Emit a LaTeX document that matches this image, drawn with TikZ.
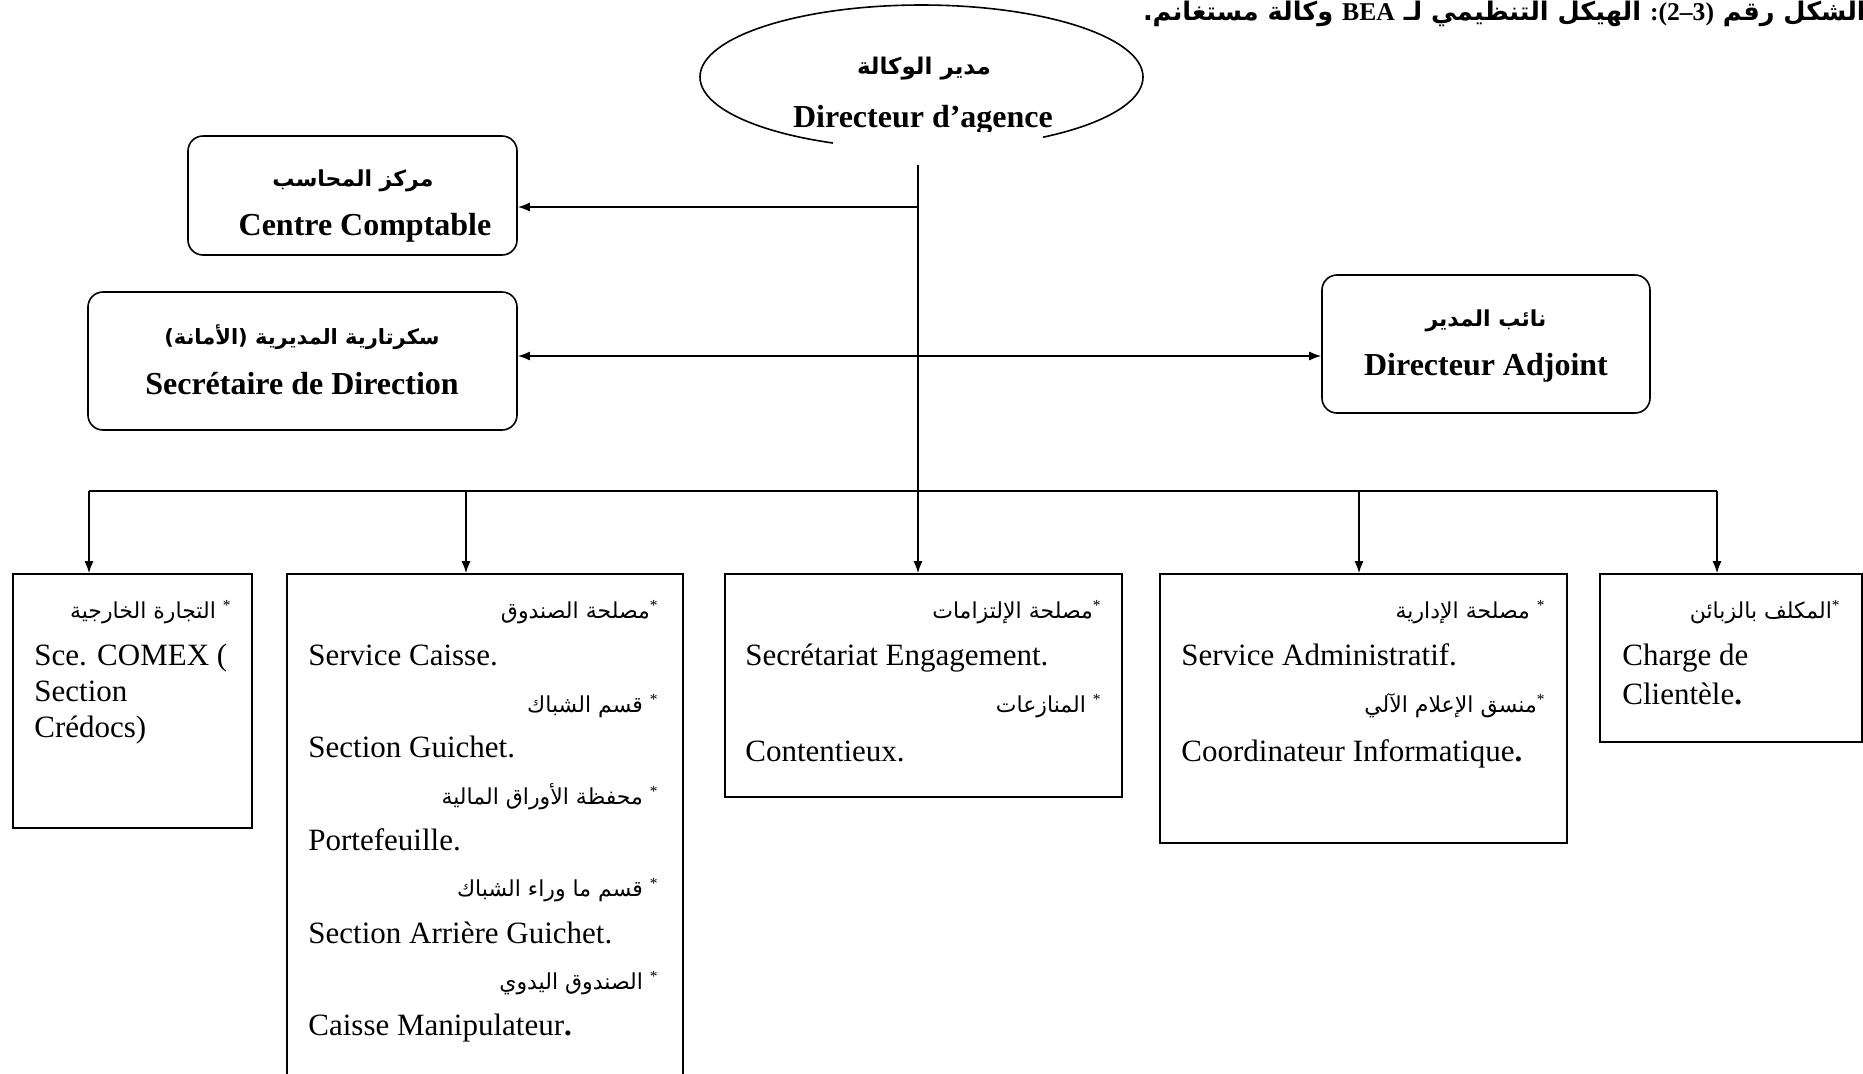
\documentclass[tikz,border=0pt]{standalone}
\usepackage{fontspec}
\setmainfont{Liberation Serif}
\newfontfamily\ar[Script=Arabic]{DejaVu Sans}
\TeXXeTstate=1
\usetikzlibrary{shapes.geometric,arrows.meta}
\newcommand{\AR}[1]{{\ar\beginR #1\endR}}
\newcommand{\astr}{\textsuperscript{\rmfamily *}}
\begin{document}
\begin{tikzpicture}[x=0.5pt,y=-0.5pt,
 box/.style={draw,line width=0.8pt,inner sep=0pt},
 rbox/.style={box,rounded corners=7.5pt},
 fr/.style={font=\fontsize{15.5}{18}\selectfont,inner sep=0pt,anchor=mid west},
 arl/.style={font=\fontsize{11}{13}\ar,inner sep=0pt,anchor=mid east},
 hfr/.style={font=\fontsize{16}{19}\selectfont\bfseries,inner sep=0pt},
 har/.style={font=\fontsize{11}{13}\ar\bfseries,inner sep=0pt},
 ln/.style={line width=0.8pt},
 arr/.style={ln,-{Latex[length=6pt,width=4.5pt]}},
 darr/.style={ln,{Latex[length=6pt,width=4.5pt]}-{Latex[length=6pt,width=4.5pt]}}]
\useasboundingbox (0,0) rectangle (1863,1073);

% title
\node[anchor=base east,font=\fontsize{12.8}{15}\ar\bfseries,inner sep=0pt] (title) at (1866,20)
 {\AR{الشكل رقم \beginL {\rmfamily :(2–3)}\endL{} الهيكل التنظيمي لـ \beginL {\rmfamily BEA}\endL{} وكالة مستغانم.}};

% director ellipse
\node[ellipse,draw,ln,minimum width=221.5pt,minimum height=72pt,inner sep=0pt] (dir) at (921.5,77) {};
\node[har,font=\fontsize{11.5}{13}\ar\bfseries] (dirar) at (924,69) {\AR{مدير الوكالة}};
\node[hfr] (dirfr) at (923,120) {Directeur d’agence};
\fill[white] (833,132) rectangle (1043,170);

% upper boxes
\node[rbox,minimum width=164.5pt,minimum height=59.5pt] (cc) at (352.5,195.5) {};
\node[har] (ccar) at (353,181) {\AR{مركز المحاسب}};
\node[hfr] (ccfr) at (365,228) {Centre Comptable};

\node[rbox,minimum width=214.5pt,minimum height=69pt] (sec) at (302.5,361) {};
\node[har,font=\fontsize{10.5}{13}\ar\bfseries] (secar) at (302,337) {\AR{سكرتارية المديرية (الأمانة)}};
\node[hfr] (secfr) at (302,384) {Secrétaire de Direction};

\node[rbox,minimum width=164pt,minimum height=69pt] (adj) at (1486,344) {};
\node[har] (adjar) at (1486,321) {\AR{نائب المدير}};
\node[hfr] (adjfr) at (1486,368) {Directeur Adjoint};

% lower boxes
\node[box,minimum width=119.5pt,minimum height=127pt] (b1) at (132.5,701) {};
\node[box,minimum width=198pt,minimum height=260.5pt] (b2) at (485,834.5) {};
\node[box,minimum width=198.5pt,minimum height=111.5pt] (b3) at (923.5,685.5) {};
\node[box,minimum width=203.5pt,minimum height=134.5pt] (b4) at (1363.5,708.5) {};
\node[box,minimum width=131pt,minimum height=84pt] (b5) at (1731,658) {};

% box 1
\node[arl] (a11) at (232,614) {\AR{\astr{} التجارة الخارجية}};
\node[fr] (f11) at (34,661) {Sce. COMEX (};
\node[fr] (f12) at (34,697) {Section};
\node[fr] (f13) at (34,733) {Crédocs)};
% box 2
\node[arl] (a21) at (659,614) {\AR{\astr مصلحة الصندوق}};
\node[fr] (f21) at (308,661) {Service Caisse.};
\node[arl] (a22) at (659,708) {\AR{\astr{} قسم الشباك}};
\node[fr] (f22) at (308,753) {Section Guichet.};
\node[arl] (a23) at (659,800) {\AR{\astr{} محفظة الأوراق المالية}};
\node[fr] (f23) at (308,846) {Portefeuille.};
\node[arl] (a24) at (659,892) {\AR{\astr{} قسم ما وراء الشباك}};
\node[fr] (f24) at (308,939) {Section Arrière Guichet.};
\node[arl] (a25) at (659,985) {\AR{\astr{} الصندوق اليدوي}};
\node[fr] (f25) at (308,1031) {Caisse Manipulateur\textbf{.}};
% box 3
\node[arl] (a31) at (1102,614) {\AR{\astr مصلحة الإلتزامات}};
\node[fr] (f31) at (745,661) {Secrétariat Engagement.};
\node[arl] (a32) at (1102,708) {\AR{\astr{} المنازعات}};
\node[fr] (f32) at (745,757) {Contentieux.};
% box 4
\node[arl] (a41) at (1546,614) {\AR{\astr{} مصلحة الإدارية}};
\node[fr] (f41) at (1181,661) {Service Administratif.};
\node[arl] (a42) at (1546,708) {\AR{\astr منسق الإعلام الآلي}};
\node[fr] (f42) at (1181,757) {Coordinateur Informatique\textbf{.}};
% box 5
\node[arl] (a51) at (1841,614) {\AR{\astr المكلف بالزبائن}};
\node[fr] (f51) at (1622,661) {Charge de};
\node[fr] (f52) at (1622,700) {Clientèle\textbf{.}};

% connectors
\coordinate (j0) at (918,165);
\coordinate (j1) at (918,207);
\coordinate (j2) at (918,356);
\coordinate (bus) at (918,491);
\coordinate (t1) at (89,491);
\coordinate (t2) at (466,491);
\coordinate (t4) at (1359,491);
\coordinate (t5) at (1717,491);
\draw[ln] (j0) -- (bus);
\draw[arr] (j1) -- (j1 -| cc.east);
\draw[darr] (j2 -| sec.east) -- (j2 -| adj.west);
\draw[ln] (t1) -- (t5);
\draw[arr] (t1) -- (t1 |- b1.north);
\draw[arr] (t2) -- (t2 |- b2.north);
\draw[arr] (bus) -- (bus |- b3.north);
\draw[arr] (t4) -- (t4 |- b4.north);
\draw[arr] (t5) -- (t5 |- b5.north);
\end{tikzpicture}
\end{document}
